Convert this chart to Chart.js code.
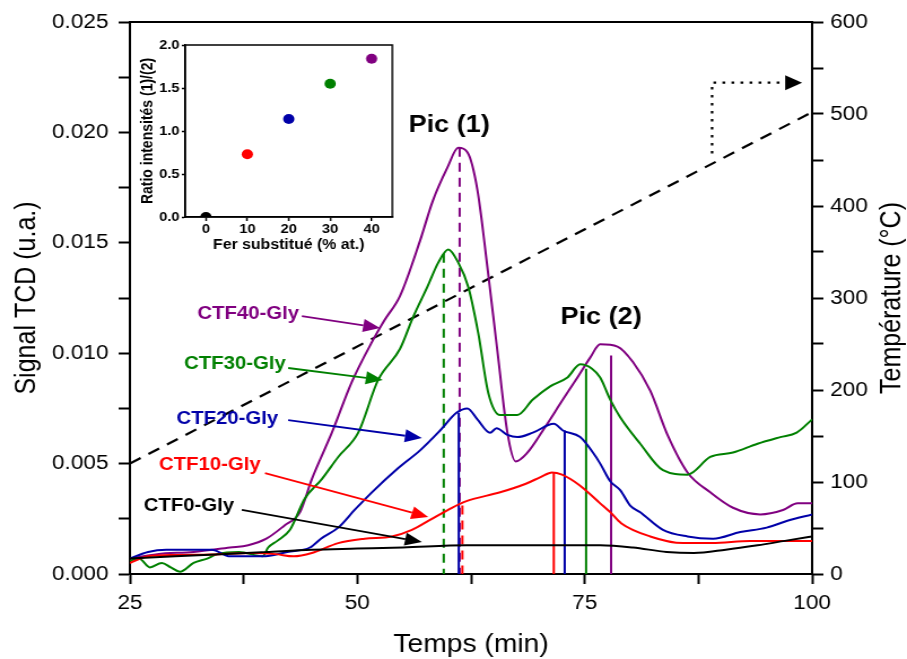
<!DOCTYPE html>
<html lang="fr">
<head>
  <meta charset="UTF-8" />
  <title>Signal TCD - CTF-Gly</title>
  <script src="https://cdn.jsdelivr.net/npm/chart.js"></script>
  <style>
    body { margin: 0; background: #fff; }
    #wrap { position: relative; width: 907px; height: 659px; }
    #main { position: absolute; left: 0; top: 0; }
    #inset { position: absolute; left: 132px; top: 26px; }
  </style>
</head>
<body>
<div id="wrap">
  <!-- the figure is stretched horizontally, so the bitmaps are drawn narrower and stretched -->
  <canvas id="main" width="803" height="659" style="width:907px;height:659px"></canvas>
  <canvas id="inset" width="235" height="238" style="width:266px;height:238px"></canvas>
</div>

<script>
  // ---- data ----
  const seriesNames = ['CTF0-Gly', 'CTF10-Gly', 'CTF20-Gly', 'CTF30-Gly', 'CTF40-Gly'];
  const seriesColors = ['#000000', '#ff0000', '#0000a8', '#008000', '#800080'];

  // [time (min), TCD signal (u.a.)]
  const ctf0 = [[25,0.0007],[30,0.0008],[35,0.0009],[40,0.001],[45,0.0011],[50,0.00115],[55,0.0012],
    [62,0.0013],[68,0.0013],[72,0.0013],[76.7,0.0013],[80.3,0.0012],[84,0.001],[87,0.00095],
    [90.5,0.0011],[94,0.0013],[97,0.0015],[100,0.0017]];
  const ctf10 = [[25,0.0005],[27,0.0008],[30,0.00086],[34,0.00088],[38.5,0.00095],[41,0.0009],[43,0.0008],
    [45,0.00095],[47.9,0.0014],[50.8,0.0016],[53.8,0.0017],[56,0.002],[58.2,0.0025],[60.4,0.003],
    [62,0.0033],[65.7,0.0037],[68.6,0.0041],[70.2,0.0044],[71.4,0.0046],[72.5,0.0045],[74.5,0.004],
    [76.7,0.0032],[77.8,0.0028],[79,0.0023],[82.2,0.0017],[85.8,0.0014],[89,0.0014],[93.2,0.0015],[100,0.0015]];
  const ctf20 = [[25,0.0007],[27,0.001],[29,0.0011],[31,0.0011],[34,0.0011],[36,0.0008],[39.6,0.0008],
    [42.3,0.001],[44.8,0.0012],[46,0.0016],[47.9,0.0021],[49.7,0.0029],[51.6,0.0037],[54.5,0.0048],
    [56.9,0.0056],[59.1,0.0065],[60.9,0.0073],[62.1,0.0075],[63.2,0.007],[64.6,0.0064],[65.3,0.0066],
    [66.5,0.0063],[67.6,0.0062],[69.3,0.0064],[71.6,0.0068],[72.6,0.0065],[74.5,0.0062],[75.9,0.0055],
    [76.7,0.005],[77.8,0.0042],[78.9,0.0038],[80,0.0031],[81.1,0.0028],[83.6,0.002],[86.3,0.0017],
    [89.1,0.0016],[92.1,0.0019],[95,0.0021],[97.2,0.0024],[100,0.0027]];
  const ctf30 = [[25,0.0006],[26,0.0007],[27.2,0.0003],[28.5,0.0005],[29.5,0.0003],[30.5,0.0001],[32,0.0005],
    [33.5,0.0007],[34.6,0.0009],[37,0.001],[39.6,0.0008],[40.2,0.0012],[41.2,0.0015],[42.6,0.002],
    [44.2,0.0034],[46.1,0.0043],[47.9,0.0053],[50.1,0.0064],[52.3,0.0088],[54.7,0.0102],[56.1,0.0116],
    [57.7,0.013],[58.9,0.0141],[60,0.0147],[61.1,0.0141],[62.2,0.013],[63.3,0.0109],[64.4,0.0082],
    [65.7,0.0072],[67.6,0.0072],[69.3,0.0079],[71.2,0.0085],[73.1,0.0089],[74.5,0.0095],[75.8,0.0093],
    [76.7,0.0089],[77.8,0.0079],[78.9,0.0071],[81.1,0.0059],[83.6,0.0047],[86.3,0.0045],[88.8,0.0053],
    [91.3,0.0055],[94,0.0059],[96.5,0.0062],[98.3,0.0064],[100,0.007]];
  const ctf40 = [[25,0.0007],[28,0.0009],[32,0.001],[36,0.0012],[38,0.0013],[40,0.0016],[42,0.0022],
    [43.7,0.0028],[45,0.0043],[47.2,0.0064],[49.4,0.0087],[51.6,0.0105],[53,0.0115],[54.7,0.0126],
    [56.9,0.0151],[58.3,0.0169],[59.9,0.0184],[61.1,0.0193],[62.1,0.0191],[63.2,0.0174],[64.3,0.0139],
    [65.4,0.0101],[66.5,0.0064],[67.4,0.0051],[68.7,0.0055],[70.4,0.0065],[72.6,0.0079],[74.2,0.0089],
    [75.6,0.0098],[76.7,0.0104],[78.6,0.0103],[80.3,0.0096],[82.2,0.0083],[84.1,0.0063],[86.3,0.0046],
    [88.8,0.0037],[91.3,0.003],[94.3,0.0027],[96.8,0.0029],[98.4,0.0032],[100,0.0032]];
  const signals = [ctf0, ctf10, ctf20, ctf30, ctf40];

  // peak positions marked by vertical lines (index follows seriesNames)
  const peak1Time = [null, 61.55, 61.15, 59.5, 61.25];
  const peak1Top  = [null, 0.0031, 0.0073, 0.0145, 0.0193];
  const peak2Time = [null, 71.6, 72.8, 75.15, 77.9];
  const peak2Top  = [null, 0.0046, 0.0065, 0.0093, 0.0099];

  // temperature ramp (right axis, °C)
  const tempTime = [25, 100];
  const tempValue = [120, 502];
  const plateauTime = [89, 89, 97];
  const plateauValue = [457, 534, 534];

  // inset: ratio of peak intensities
  const ferSubstitue = [0, 10, 20, 30, 40];
  const ratioIntensites = [0, 0.73, 1.14, 1.55, 1.84];

  // ---- annotation placement, in data coordinates ----
  const labelPos = [[31.5,0.00308],[33.8,0.00494],[35.7,0.00702],[36.55,0.00951],[38.0,0.01178]];
  const arrowPos = [
    [37.3,0.0029, 57.1,0.00145],
    [39.85,0.00457, 57.8,0.00258],
    [42.4,0.00697, 57.1,0.00616],
    [42.4,0.00933, 52.8,0.00879],
    [43.9,0.01168, 52.5,0.01114]
  ];
  const picLabels = [['Pic (1)', 60.1, 0.0203], ['Pic (2)', 76.8, 0.01164]];

  const FONT = 'Arial, "Liberation Sans", sans-serif';
  const pairs = arr => arr.map(p => ({x: p[0], y: p[1]}));

  function drawArrow(ctx, x1, y1, x2, y2, color, width, headLen, headHalf) {
    const a = Math.atan2(y2 - y1, x2 - x1);
    const bx = x2 - headLen * Math.cos(a), by = y2 - headLen * Math.sin(a);
    ctx.strokeStyle = color; ctx.fillStyle = color; ctx.lineWidth = width;
    ctx.beginPath(); ctx.moveTo(x1, y1); ctx.lineTo(bx, by); ctx.stroke();
    ctx.beginPath();
    ctx.moveTo(x2, y2);
    ctx.lineTo(bx - headHalf * Math.sin(a), by + headHalf * Math.cos(a));
    ctx.lineTo(bx + headHalf * Math.sin(a), by - headHalf * Math.cos(a));
    ctx.closePath(); ctx.fill();
  }

  // ---- datasets ----
  const datasets = [];
  signals.forEach((s, i) => {
    datasets.push({
      label: seriesNames[i], data: pairs(s), yAxisID: 'y',
      borderColor: seriesColors[i], borderWidth: 2, pointRadius: 0,
      cubicInterpolationMode: 'monotone'
    });
  });
  seriesNames.forEach((n, i) => {
    if (peak1Time[i] !== null) {
      datasets.push({
        label: n + ' pic 1', data: [{x: peak1Time[i], y: peak1Top[i]}, {x: peak1Time[i], y: 0}],
        yAxisID: 'y', borderColor: seriesColors[i], borderWidth: 2, pointRadius: 0,
        borderDash: i === 2 ? [] : [9, 6]
      });
    }
    if (peak2Time[i] !== null) {
      datasets.push({
        label: n + ' pic 2', data: [{x: peak2Time[i], y: peak2Top[i]}, {x: peak2Time[i], y: 0}],
        yAxisID: 'y', borderColor: seriesColors[i], borderWidth: 2, pointRadius: 0
      });
    }
  });
  datasets.push({
    label: 'Température', data: tempTime.map((t, i) => ({x: t, y: tempValue[i]})), yAxisID: 'y2',
    borderColor: '#000', borderWidth: 2.2, borderDash: [11, 8], pointRadius: 0
  });
  datasets.push({
    label: 'Palier', data: plateauTime.map((t, i) => ({x: t, y: plateauValue[i]})), yAxisID: 'y2',
    borderColor: '#000', borderWidth: 2.2, borderDash: [2.5, 5.5], pointRadius: 0
  });

  const annotate = {
    id: 'annotate',
    afterDatasetsDraw(chart) {
      const {ctx, chartArea, scales} = chart;
      const px = v => scales.x.getPixelForValue(v);
      const py = v => scales.y.getPixelForValue(v);
      const pt = v => scales.y2.getPixelForValue(v);
      ctx.save();
      // top frame
      ctx.strokeStyle = '#000'; ctx.lineWidth = 2;
      ctx.beginPath(); ctx.moveTo(chartArea.left, chartArea.top); ctx.lineTo(chartArea.right, chartArea.top); ctx.stroke();

      arrowPos.forEach((a, i) => drawArrow(ctx, px(a[0]), py(a[1]), px(a[2]), py(a[3]), seriesColors[i], 1.8, 15, 6.5));
      drawArrow(ctx, px(plateauTime[2]), pt(534), px(98.9), pt(534), '#000', 0.1, 15, 7.5);

      ctx.textAlign = 'center'; ctx.textBaseline = 'middle';
      ctx.font = 'bold 18px ' + FONT;
      labelPos.forEach((p, i) => {
        ctx.fillStyle = seriesColors[i];
        ctx.fillText(seriesNames[i], px(p[0]), py(p[1]));
      });
      ctx.font = 'bold 24px ' + FONT;
      ctx.fillStyle = '#000';
      picLabels.forEach(p => ctx.fillText(p[0], px(p[1]), py(p[2])));

      // right axis title reads bottom-to-top like the left one
      ctx.font = '25px ' + FONT;
      ctx.translate(790, (chartArea.top + chartArea.bottom) / 2);
      ctx.rotate(-Math.PI / 2);
      ctx.fillText('Température (°C)', 0, 0);
      ctx.restore();
    }
  };

  const axisGrid = { display: true, drawOnChartArea: false, drawTicks: true, tickLength: 10, tickWidth: 2, tickColor: '#000' };
  const axisBorder = { display: true, color: '#000', width: 2 };

  new Chart(document.getElementById('main'), {
    type: 'line',
    data: { datasets },
    plugins: [annotate],
    options: {
      responsive: false,
      devicePixelRatio: 1,
      animation: false,
      layout: { padding: { top: 22, left: 0, right: 0, bottom: 0 } },
      plugins: { legend: { display: false }, tooltip: { enabled: false } },
      scales: {
        x: {
          type: 'linear', min: 25, max: 100,
          afterFit: s => { s.height = 85; },
          grid: axisGrid, border: axisBorder,
          ticks: {
            stepSize: 12.5, autoSkip: false, maxRotation: 0, padding: 7, color: '#000',
            font: { family: FONT, size: 20 },
            callback: v => (v % 25 === 0 ? v : '')
          },
          title: { display: true, text: 'Temps (min)', color: '#000',
            font: { family: FONT, size: 25, lineHeight: 1.12 }, padding: { top: 0, bottom: 0 } }
        },
        y: {
          position: 'left', min: 0, max: 0.025,
          afterFit: s => { s.width = 115; },
          grid: axisGrid, border: axisBorder,
          ticks: {
            stepSize: 0.0025, autoSkip: false, padding: 9, color: '#000',
            font: { family: FONT, size: 20 },
            callback: v => { const k = Math.round(v / 0.0025); return k % 2 === 0 ? (k * 0.0025).toFixed(3) : ''; }
          },
          title: { display: true, text: 'Signal TCD (u.a.)', color: '#000',
            font: { family: FONT, size: 25 }, padding: { top: 9, bottom: 0 } }
        },
        y2: {
          position: 'right', min: 0, max: 600,
          afterFit: s => { s.width = 84; },
          grid: axisGrid, border: axisBorder,
          ticks: {
            stepSize: 50, autoSkip: false, padding: 6, color: '#000',
            font: { family: FONT, size: 20 },
            callback: v => (v % 100 === 0 ? v : '')
          }
        }
      }
    }
  });

  // ---- inset ----
  const insetFrame = {
    id: 'insetFrame',
    afterDraw(chart) {
      const {ctx, chartArea: a} = chart;
      ctx.save();
      ctx.strokeStyle = '#000'; ctx.lineWidth = 1.5;
      ctx.strokeRect(a.left, a.top, a.right - a.left, a.bottom - a.top);
      ctx.restore();
    }
  };

  new Chart(document.getElementById('inset'), {
    type: 'scatter',
    data: {
      datasets: [{
        data: ferSubstitue.map((f, i) => ({x: f, y: ratioIntensites[i]})),
        pointRadius: 5, pointBorderWidth: 0,
        pointBackgroundColor: seriesColors,
        clip: { left: false, top: false, right: false, bottom: 0 }
      }]
    },
    plugins: [insetFrame],
    options: {
      responsive: false,
      devicePixelRatio: 1,
      animation: false,
      layout: { padding: { top: 19, right: 3, left: 0, bottom: 0 } },
      plugins: { legend: { display: false }, tooltip: { enabled: false } },
      scales: {
        x: {
          type: 'linear', min: -5, max: 45,
          // ticks only at the substitution levels
          afterBuildTicks: s => { s.ticks = ferSubstitue.map(v => ({ value: v })); },
          afterFit: s => { s.height = 47; },
          grid: { display: true, drawOnChartArea: false, tickLength: 4, tickWidth: 1.5, tickColor: '#000' },
          border: { color: '#000', width: 1.5 },
          ticks: { autoSkip: false, maxRotation: 0, padding: 1, color: '#000',
            font: { family: FONT, size: 13, weight: 'bold' } },
          title: { display: true, text: 'Fer substitué (% at.)', color: '#000',
            font: { family: FONT, size: 14, weight: 'bold' }, padding: { top: 0, bottom: 10.6 } }
        },
        y: {
          min: 0, max: 2,
          afterFit: s => { s.width = 47; },
          grid: { display: true, drawOnChartArea: false, tickLength: 3, tickWidth: 1.5, tickColor: '#000' },
          border: { color: '#000', width: 1.5 },
          ticks: { stepSize: 0.5, autoSkip: false, padding: 2, color: '#000',
            font: { family: FONT, size: 13, weight: 'bold' },
            callback: v => v.toFixed(1) },
          title: { display: true, text: 'Ratio intensités (1)/(2)', color: '#000',
            font: { family: FONT, size: 14, weight: 'bold' }, padding: { top: 5.6, bottom: 0 } }
        }
      }
    }
  });
</script>
</body>
</html>
